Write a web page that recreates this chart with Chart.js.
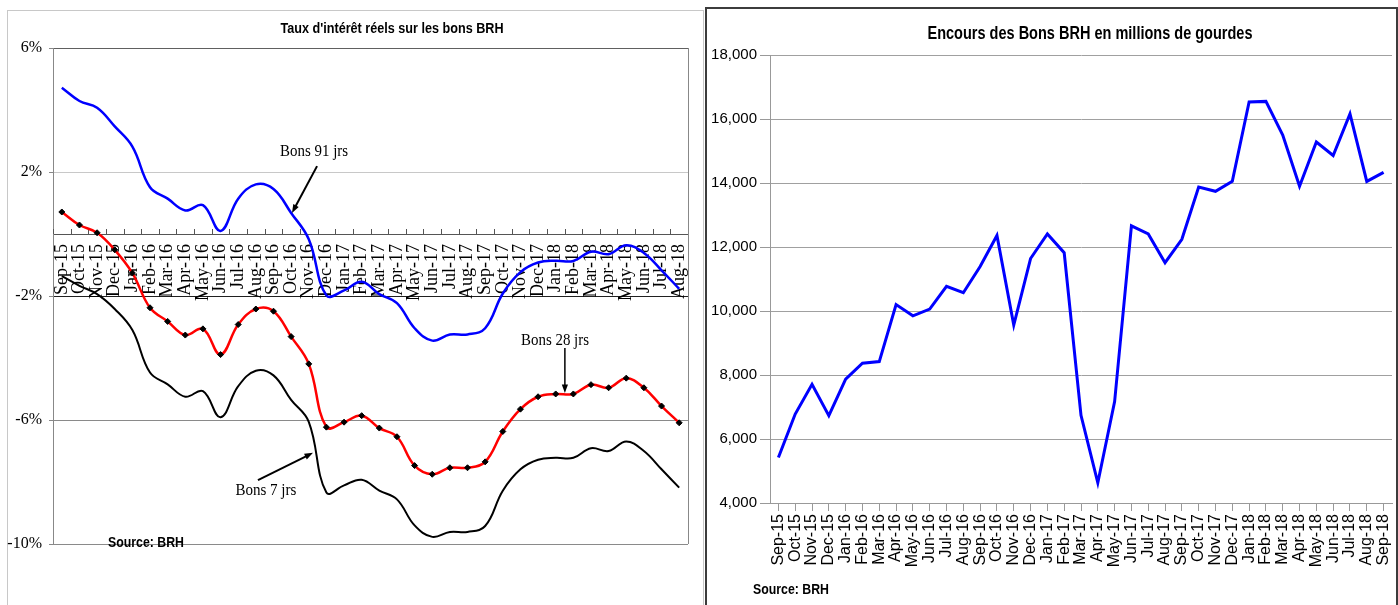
<!DOCTYPE html>
<html>
<head>
<meta charset="utf-8">
<script src="https://cdn.jsdelivr.net/npm/chart.js@4.4.0/dist/chart.umd.min.js"></script>
<style>
  body { margin: 0; background: #fff; width: 1398px; height: 605px; overflow: hidden; position: relative; }
  #boxL { position: absolute; left: 7px; top: 10px; width: 697px; height: 600px; border: 1px solid #c8c8c8; box-sizing: border-box; }
  #boxR { position: absolute; left: 705px; top: 7px; width: 693px; height: 605px; border: 2px solid #3c3c3c; box-sizing: border-box; }
  canvas { position: absolute; }
  #cL { left: 7px; top: 10px; }
  #cR { left: 706px; top: 8px; }
</style>
</head>
<body>
<div id="boxL"></div>
<div id="boxR"></div>
<canvas id="cL" width="696" height="595"></canvas>
<canvas id="cR" width="690" height="597"></canvas>
<script>
// left chart: real interest rates (%)
const monthsL = ['Sep-15','Oct-15','Nov-15','Dec-15','Jan-16','Feb-16','Mar-16','Apr-16','May-16','Jun-16','Jul-16','Aug-16',
  'Sep-16','Oct-16','Nov-16','Dec-16','Jan-17','Feb-17','Mar-17','Apr-17','May-17','Jun-17','Jul-17','Aug-17',
  'Sep-17','Oct-17','Nov-17','Dec-17','Jan-18','Feb-18','Mar-18','Apr-18','May-18','Jun-18','Jul-18','Aug-18'];
const bons91 = [4.72, 4.29, 4.07, 3.47, 2.82, 1.51, 1.14, 0.76, 0.93, 0.10, 1.14, 1.60,
  1.45, 0.68, -0.17, -1.98, -1.82, -1.54, -1.94, -2.23, -3.04, -3.44, -3.24, -3.24,
  -3.04, -1.92, -1.23, -0.92, -0.86, -0.87, -0.57, -0.65, -0.36, -0.61, -1.17, -1.77];
const bons28 = [0.71, 0.29, 0.04, -0.51, -1.26, -2.38, -2.82, -3.26, -3.06, -3.89, -2.92, -2.42,
  -2.49, -3.31, -4.19, -6.23, -6.07, -5.86, -6.26, -6.54, -7.47, -7.75, -7.54, -7.54,
  -7.35, -6.37, -5.65, -5.25, -5.16, -5.16, -4.86, -4.96, -4.65, -4.96, -5.55, -6.09];
const bons7 = [-1.36, -1.67, -1.94, -2.42, -3.10, -4.47, -4.85, -5.25, -5.07, -5.91, -4.91, -4.41,
  -4.56, -5.35, -6.06, -8.34, -8.11, -7.93, -8.28, -8.56, -9.40, -9.77, -9.61, -9.61,
  -9.42, -8.28, -7.59, -7.28, -7.22, -7.22, -6.91, -7.00, -6.69, -7.00, -7.59, -8.18];

// right chart: outstanding BRH bills (millions of gourdes)
const monthsR = ['Sep-15','Oct-15','Nov-15','Dec-15','Jan-16','Feb-16','Mar-16','Apr-16','May-16','Jun-16','Jul-16','Aug-16',
  'Sep-16','Oct-16','Nov-16','Dec-16','Jan-17','Feb-17','Mar-17','Apr-17','May-17','Jun-17','Jul-17','Aug-17',
  'Sep-17','Oct-17','Nov-17','Dec-17','Jan-18','Feb-18','Mar-18','Apr-18','May-18','Jun-18','Jul-18','Aug-18','Sep-18'];
const encours = [5420, 6780, 7710, 6730, 7870, 8370, 8420, 10200, 9850, 10060, 10770, 10570,
  11390, 12360, 9560, 11640, 12410, 11820, 6740, 4630, 7170, 12660, 12410, 11510,
  12240, 13870, 13740, 14050, 16530, 16550, 15500, 13900, 15280, 14860, 16160, 14050, 14330];

const serif = '"Liberation Serif", "Times New Roman", serif';
const sans = '"Liberation Sans", Arial, sans-serif';

// draws text squeezed to a given width (the originals use a condensed face)
function fitText(ctx, text, x, y, width, align) {
  const w = ctx.measureText(text).width;
  const sx = Math.min(1, width / w);
  ctx.save();
  ctx.translate(x, y);
  ctx.scale(sx, 1);
  ctx.textAlign = align;
  ctx.fillText(text, 0, 0);
  ctx.restore();
}

function arrow(ctx, x1, y1, x2, y2) {
  const a = Math.atan2(y2 - y1, x2 - x1), h = 9;
  ctx.beginPath();
  ctx.moveTo(x1, y1);
  ctx.lineTo(x2 - Math.cos(a) * 5, y2 - Math.sin(a) * 5);
  ctx.stroke();
  ctx.beginPath();
  ctx.moveTo(x2, y2);
  ctx.lineTo(x2 - h * Math.cos(a - 0.35), y2 - h * Math.sin(a - 0.35));
  ctx.lineTo(x2 - h * Math.cos(a + 0.35), y2 - h * Math.sin(a + 0.35));
  ctx.closePath();
  ctx.fill();
}

// rotated labels make chart.js reserve room on the sides; the originals don't
function noSidePadding(s) {
  s.paddingLeft = 0;
  s.paddingRight = 0;
}

const leftDecor = {
  id: 'leftDecor',
  beforeDatasetsDraw(chart) {
    const {ctx, chartArea} = chart;
    const xs = chart.scales.x, ys = chart.scales.y;
    const y0 = ys.getPixelForValue(0);
    ctx.save();
    ctx.strokeStyle = '#555';
    ctx.lineWidth = 1;
    for (let i = 0; i <= monthsL.length; i++) {
      const x = Math.round(xs.getPixelForValue(i - 0.5)) + 0.5;
      ctx.beginPath();
      ctx.moveTo(x, y0);
      ctx.lineTo(x, y0 - 5);
      ctx.stroke();
    }
    ctx.strokeStyle = '#888';
    ctx.beginPath();
    ctx.moveTo(chartArea.right + 0.5, chartArea.top);
    ctx.lineTo(chartArea.right + 0.5, chartArea.bottom);
    ctx.stroke();
    ctx.restore();
  },
  afterDatasetsDraw(chart) {
    const {ctx} = chart;
    const xs = chart.scales.x, ys = chart.scales.y;
    const X = v => xs.getPixelForValue(v), Y = v => ys.getPixelForValue(v);
    ctx.save();
    ctx.fillStyle = '#000';
    ctx.strokeStyle = '#000';
    ctx.lineWidth = 2;
    ctx.font = '17px ' + serif;
    ctx.textAlign = 'center';
    ctx.textBaseline = 'middle';
    fitText(ctx, 'Bons 91 jrs', X(14.3), Y(2.65), 68, 'center');
    arrow(ctx, X(14.47), Y(2.19), X(13.05), Y(0.68));
    fitText(ctx, 'Bons 7 jrs', X(11.57), Y(-8.26), 61, 'center');
    arrow(ctx, X(11.12), Y(-7.94), X(14.24), Y(-7.06));
    fitText(ctx, 'Bons 28 jrs', X(27.96), Y(-3.45), 68, 'center');
    ctx.lineWidth = 1.5;
    arrow(ctx, X(28.52), Y(-3.68), X(28.52), Y(-5.13));
    // title and source
    ctx.font = 'bold 15px ' + sans;
    fitText(ctx, "Taux d'intérêt réels sur les bons BRH", 385, 19, 223, 'center');
    fitText(ctx, 'Source: BRH', 101, 533, 76, 'left');
    ctx.restore();
  }
};

const gridL = {'6': '#606060', '2': '#c8c8c8', '-2': '#202020', '-6': '#8a8a8a', '-10': '#8a8a8a'};

new Chart(document.getElementById('cL'), {
  type: 'line',
  data: {
    labels: monthsL,
    datasets: [
      {label: 'Bons 91 jrs', data: bons91, borderColor: '#0000ff', borderWidth: 2.5, pointRadius: 0, tension: 0.4},
      {label: 'Bons 28 jrs', data: bons28, borderColor: '#ff0000', borderWidth: 2.5, pointRadius: 3, pointStyle: 'rectRot',
        pointBackgroundColor: '#000', pointBorderColor: '#000', pointBorderWidth: 1, tension: 0.4},
      {label: 'Bons 7 jrs', data: bons7, borderColor: '#000', borderWidth: 2, pointRadius: 0, tension: 0.4}
    ]
  },
  options: {
    responsive: false,
    animation: false,
    layout: {padding: {left: 0, top: 38, right: 15, bottom: 61}},
    plugins: {legend: {display: false}, title: {display: false}, tooltip: {enabled: false}},
    scales: {
      x: {
        position: {y: 0},
        offset: true,
        afterFit: noSidePadding,
        grid: {display: true, drawOnChartArea: false, drawTicks: false},
        border: {display: true, color: '#555'},
        ticks: {autoSkip: false, minRotation: 90, maxRotation: 90, padding: 10, color: '#000',
          font: {family: serif, size: 18}}
      },
      y: {
        min: -10, max: 6,
        afterFit(s) { s.width = 46; },
        ticks: {stepSize: 4, callback: v => v + '%', padding: 7, color: '#000', font: {family: serif, size: 16}},
        grid: {color: c => gridL[String(c.tick.value)] || '#8a8a8a', tickColor: '#888', tickLength: 4},
        border: {color: '#888'}
      }
    }
  },
  plugins: [leftDecor]
});

const rightDecor = {
  id: 'rightDecor',
  afterDraw(chart) {
    const {ctx} = chart;
    ctx.save();
    ctx.fillStyle = '#000';
    ctx.textBaseline = 'middle';
    ctx.font = 'bold 18px ' + sans;
    fitText(ctx, 'Encours des Bons BRH en millions de gourdes', 384, 26, 325, 'center');
    ctx.font = 'bold 15px ' + sans;
    fitText(ctx, 'Source: BRH', 47, 582, 76, 'left');
    ctx.restore();
  }
};

new Chart(document.getElementById('cR'), {
  type: 'line',
  data: {
    labels: monthsR,
    datasets: [{label: 'Encours', data: encours, borderColor: '#0000ff', borderWidth: 3, pointRadius: 0, tension: 0}]
  },
  options: {
    responsive: false,
    animation: false,
    layout: {padding: {left: 0, top: 47, right: 4, bottom: 30}},
    plugins: {legend: {display: false}, title: {display: false}, tooltip: {enabled: false}},
    scales: {
      x: {
        offset: true,
        afterFit(s) { s.height = 72; noSidePadding(s); },
        grid: {drawOnChartArea: false, tickLength: 8, color: '#999'},
        border: {color: '#999'},
        ticks: {autoSkip: false, minRotation: 90, maxRotation: 90, padding: 3, color: '#000',
          font: {family: sans, size: 16}}
      },
      y: {
        min: 4000, max: 18000,
        afterFit(s) { s.width = 64; },
        ticks: {stepSize: 2000, callback: v => v.toLocaleString('en-US'), padding: 3, color: '#000',
          font: {family: sans, size: 15}},
        grid: {color: '#a0a0a0', tickColor: '#999', tickLength: 10},
        border: {color: '#999'}
      }
    }
  },
  plugins: [rightDecor]
});
</script>
</body>
</html>
